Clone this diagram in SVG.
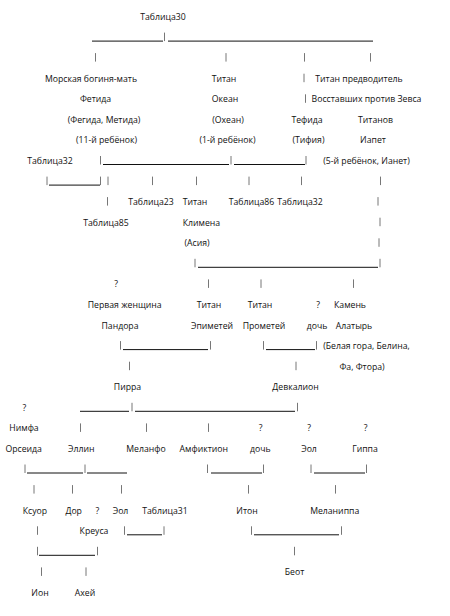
<svg xmlns="http://www.w3.org/2000/svg" width="450" height="616" viewBox="0 0 450 616">
<style>
text{font-family:"Open Sans","Noto Sans","DejaVu Sans",sans-serif;font-size:8.7px;fill:#111;text-anchor:middle}
.p{stroke:#777;stroke-width:1;fill:none}
.u{stroke:#111;stroke-width:1;fill:none}
</style>
<rect width="450" height="616" fill="#fff"/>
<g id="connectors">
<path class="u" d="M92 41.1H163M168 41.1H373"/>
<path class="p" d="M164.5 32.6V41.1"/>
<path class="p" d="M95.5 53.1V61.6M226 53.1V61.6M304.5 53.1V61.6M370.5 53.1V61.6"/>
<path class="p" d="M304 73.7V82.2M305.5 94.3V102.8"/>
<path class="u" d="M103 164.5H229M234 164.5H305"/>
<path class="p" d="M100.5 156V164.5M231 156V164.5M306 156V164.5"/>
<path class="u" d="M49 185.1H100"/>
<path class="p" d="M47 176.6V185.1M100.5 176.6V185.1M108 176.6V185.1M152.5 176.6V185.1M196.5 176.6V185.1M249 176.6V185.1M301.5 176.6V185.1M380.5 176.6V185.1"/>
<path class="p" d="M107.5 197.1V205.6M378 197.1V205.6M380 217.7V226.2M379 238.3V246.8"/>
<path class="u" d="M198 267.3H378"/>
<path class="p" d="M195 258.8V267.3M380 258.8V267.3"/>
<path class="p" d="M208.5 279.4V287.9M261 279.4V287.9M353.5 279.4V287.9"/>
<path class="u" d="M123 349.6H208M266 349.6H315"/>
<path class="p" d="M120.5 341.1V349.6M210.5 341.1V349.6M263.5 341.1V349.6M316.5 341.1V349.6"/>
<path class="p" d="M129.5 361.7V370.2M296 361.7V370.2"/>
<path class="u" d="M80 411.3H129M135 411.3H295"/>
<path class="p" d="M132 402.8V411.3M297.5 402.8V411.3"/>
<path class="p" d="M80.5 423.4V431.9M146.5 423.4V431.9M208.5 423.4V431.9"/>
<path class="u" d="M27 473H83M87 473H127M211 473H262M314 473H365"/>
<path class="p" d="M25 464.5V473M85 464.5V473M207.5 464.5V473M263.5 464.5V473M311 464.5V473M366.5 464.5V473"/>
<path class="p" d="M34 485.1V493.6M72.5 485.1V493.6M121.5 485.1V493.6M248.5 485.1V493.6M335.5 485.1V493.6"/>
<path class="u" d="M127 534.8H162M254 534.8H339"/>
<path class="p" d="M37.5 526.3V534.8M124.5 526.3V534.8M164 526.3V534.8M251.5 526.3V534.8M341.5 526.3V534.8"/>
<path class="u" d="M39 555.3H95"/>
<path class="p" d="M37.5 546.8V555.3M97.5 546.8V555.3M294.5 546.8V555.3"/>
<path class="p" d="M41.5 567.4V575.9M86 567.4V575.9"/>
</g>
<g id="t30"><text x="163" y="20">Таблица30</text></g>
<g id="fetida"><text x="91" y="81.7">Морская богиня-мать</text><text x="95.5" y="102.3">Фетида</text><text x="104" y="122.9">(Фегида, Метида)</text><text x="106.5" y="143.4">(11-й ребёнок)</text></g>
<g id="okean"><text x="224" y="81.7">Титан</text><text x="225" y="102.3">Океан</text><text x="228" y="122.9">(Охеан)</text><text x="227.5" y="143.4">(1-й ребёнок)</text></g>
<g id="tefida"><text x="307" y="122.9">Тефида</text><text x="308.5" y="143.4">(Тифия)</text></g>
<g id="iapet"><text x="359" y="81.7">Титан предводитель</text><text x="366.5" y="102.3">Восставших против Зевса</text><text x="375.5" y="122.9">Титанов</text><text x="373" y="143.4">Иапет</text><text x="366.5" y="164">(5-й ребёнок, Ианет)</text></g>
<g id="t32a"><text x="50" y="164">Таблица32</text></g>
<g id="t23"><text x="151" y="205.1">Таблица23</text></g>
<g id="klimena"><text x="195" y="205.1">Титан</text><text x="201.5" y="225.7">Климена</text><text x="197" y="246.3">(Асия)</text></g>
<g id="t86"><text x="251.5" y="205.1">Таблица86</text></g>
<g id="t32b"><text x="300" y="205.1">Таблица32</text></g>
<g id="t85"><text x="106" y="225.7">Таблица85</text></g>
<g id="q1"><text x="116" y="287.4">?</text></g>
<g id="pandora"><text x="124.7" y="308">Первая женщина</text><text x="120" y="328.6">Пандора</text></g>
<g id="epimetey"><text x="209" y="308">Титан</text><text x="212" y="328.6">Эпиметей</text></g>
<g id="prometey"><text x="260" y="308">Титан</text><text x="264" y="328.6">Прометей</text></g>
<g id="doch1"><text x="318" y="308">?</text><text x="317" y="328.6">дочь</text></g>
<g id="kamen"><text x="350" y="308">Камень</text><text x="354" y="328.6">Алатырь</text><text x="366.5" y="349.1">(Белая гора, Белина,</text><text x="362" y="369.7">Фа, Фтора)</text></g>
<g id="pirra"><text x="127.5" y="390.3">Пирра</text></g>
<g id="devkalion"><text x="295.5" y="390.3">Девкалион</text></g>
<g id="orseida"><text x="24.3" y="410.8">?</text><text x="24" y="431.4">Нимфа</text><text x="23.7" y="452">Орсеида</text></g>
<g id="ellin"><text x="81.3" y="452">Эллин</text></g>
<g id="melanfo"><text x="146" y="452">Меланфо</text></g>
<g id="amfiktion"><text x="203.8" y="452">Амфиктион</text></g>
<g id="doch2"><text x="260.7" y="431.4">?</text><text x="260.3" y="452">дочь</text></g>
<g id="eol1"><text x="309" y="431.4">?</text><text x="309" y="452">Эол</text></g>
<g id="gippa"><text x="365.7" y="431.4">?</text><text x="365" y="452">Гиппа</text></g>
<g id="ksuor"><text x="35" y="513.7">Ксуор</text></g>
<g id="dor"><text x="73.7" y="513.7">Дор</text></g>
<g id="kreusa"><text x="97.3" y="513.7">?</text><text x="94" y="534.3">Креуса</text></g>
<g id="eol2"><text x="120.5" y="513.7">Эол</text></g>
<g id="t31"><text x="165" y="513.7">Таблица31</text></g>
<g id="iton"><text x="247" y="513.7">Итон</text></g>
<g id="melanippa"><text x="334.7" y="513.7">Меланиппа</text></g>
<g id="beot"><text x="294.5" y="575.4">Беот</text></g>
<g id="ion"><text x="40" y="596">Ион</text></g>
<g id="ahey"><text x="85" y="596">Ахей</text></g>
</svg>
